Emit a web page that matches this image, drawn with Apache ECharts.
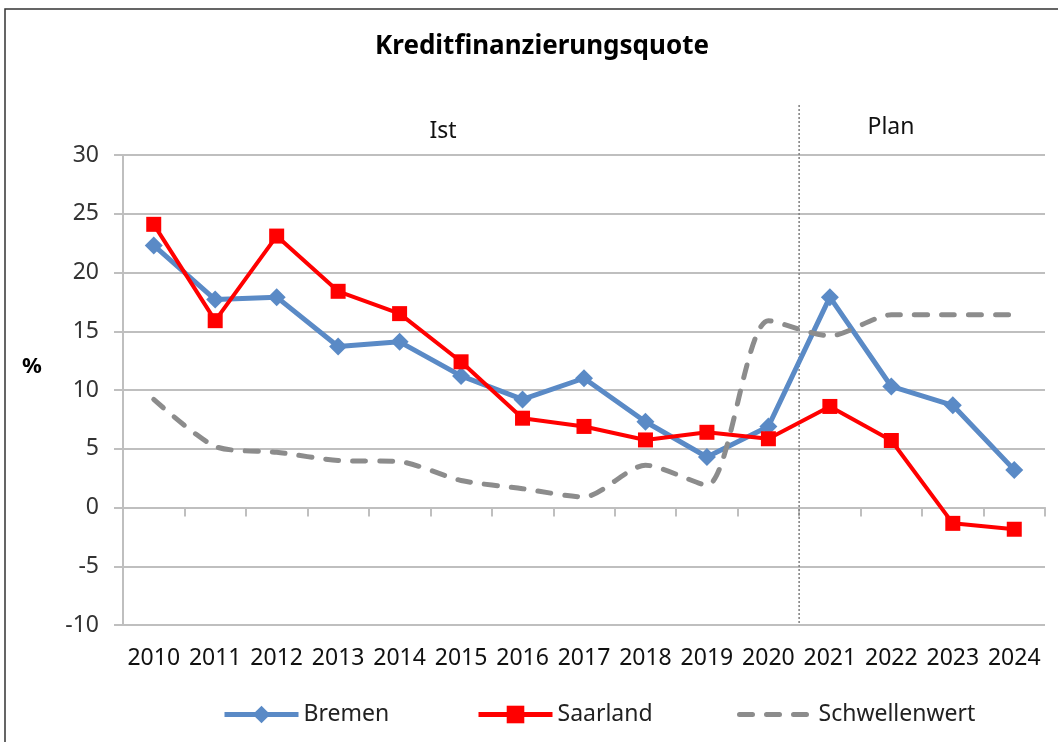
<!DOCTYPE html>
<html>
<head>
<meta charset="utf-8">
<title>Kreditfinanzierungsquote</title>
<script src="https://cdn.jsdelivr.net/npm/echarts@6/dist/echarts.min.js"></script>
<style>
  html, body { margin: 0; padding: 0; background: #fff; }
  #chart { width: 1058px; height: 742px; }
</style>
</head>
<body>
<div id="chart"></div>
<script>
// Daten
var years = ['2010','2011','2012','2013','2014','2015','2016','2017','2018','2019','2020','2021','2022','2023','2024'];
var bremen = [22.3, 17.7, 17.9, 13.7, 14.1, 11.2, 9.2, 11.0, 7.3, 4.3, 6.9, 17.9, 10.3, 8.7, 3.2];
var saarland = [24.1, 15.9, 23.1, 18.4, 16.5, 12.4, 7.6, 6.9, 5.75, 6.4, 5.85, 8.6, 5.7, -1.35, -1.85];
var schwelle = [9.2, 5.2, 4.7, 4.0, 3.9, 2.3, 1.6, 0.9, 3.6, 1.9, 15.9, 14.6, 16.4, 16.4, 16.4];
var yTicks = { min: -10, max: 30, step: 5 };

var font = 'Noto Sans';
var gridGray = '#bfbfbf';

var chart = echarts.init(document.getElementById('chart'));

// eine Legende pro Serie, damit die Abstände wie im Original sind
function legendAt(item, left) {
    return {
        data: [item],
        left: left,
        top: 703,
        padding: 0,
        itemWidth: 74,
        itemHeight: 22,
        itemGap: 4,
        lineStyle: { width: 5 },
        textStyle: { fontFamily: font, fontSize: 23, color: '#222' }
    };
}

var option = {
    animation: false,
    backgroundColor: '#fff',
    title: {
        text: 'Kreditfinanzierungsquote',
        left: 537,
        textAlign: 'center',
        top: 29,
        textStyle: { fontFamily: font, fontSize: 26, fontWeight: 'bold', color: '#000' }
    },
    legend: [
        legendAt('Bremen', 222),
        legendAt('Saarland', 476),
        legendAt({ name: 'Schwellenwert', itemStyle: { opacity: 0 } }, 737)
    ],
    grid: { left: 123, right: 13, top: 155, bottom: 117 },
    xAxis: {
        type: 'category',
        data: years,
        boundaryGap: true,
        axisLine: { lineStyle: { color: gridGray, width: 2 } },
        axisTick: { show: true, length: 9, lineStyle: { color: gridGray, width: 2 } },
        axisLabel: { interval: 0, fontFamily: font, fontSize: 23, color: '#111', margin: 22 }
    },
    yAxis: {
        type: 'value',
        min: yTicks.min,
        max: yTicks.max,
        interval: yTicks.step,
        axisLine: { show: true, lineStyle: { color: gridGray, width: 2 } },
        axisTick: { show: true, length: 9, lineStyle: { color: gridGray, width: 2 } },
        splitLine: { lineStyle: { color: gridGray, width: 2 } },
        axisLabel: { fontFamily: font, fontSize: 23, color: '#333', margin: 24 }
    },
    series: [
        {
            name: 'Bremen',
            type: 'line',
            data: bremen,
            symbol: 'diamond',
            symbolSize: 18,
            color: '#5a8ac6',
            lineStyle: { width: 5, color: '#5a8ac6' },
            itemStyle: { color: '#5a8ac6' }
        },
        {
            name: 'Saarland',
            type: 'line',
            data: saarland,
            symbol: 'rect',
            symbolSize: 15,
            color: '#ff0000',
            lineStyle: { width: 4, color: '#ff0000' },
            itemStyle: { color: '#ff0000' }
        },
        {
            name: 'Schwellenwert',
            type: 'line',
            data: schwelle,
            showSymbol: false,
            symbol: 'none',
            smooth: 0.25,
            color: '#8c8c8c',
            lineStyle: { width: 5, color: '#8c8c8c', type: [13, 14], cap: 'round' }
        }
    ]
};

chart.setOption(option);

// Trennlinie Ist / Plan zwischen 2020 und 2021
var x2020 = chart.convertToPixel({ xAxisIndex: 0 }, '2020');
var x2021 = chart.convertToPixel({ xAxisIndex: 0 }, '2021');
var xSep = (x2020 + x2021) / 2;
var yBottom = chart.convertToPixel({ yAxisIndex: 0 }, yTicks.min);

chart.setOption({
    graphic: [
        {
            type: 'rect',
            shape: { x: 5, y: 9, width: 1060, height: 740 },
            style: { fill: 'none', stroke: '#333', lineWidth: 1.5 },
            silent: true
        },
        {
            type: 'line',
            shape: { x1: xSep, y1: 105, x2: xSep, y2: yBottom },
            style: { stroke: '#7f7f7f', lineWidth: 1.5, lineDash: [2, 2] },
            z: 1,
            silent: true
        },
        {
            type: 'text',
            x: 443, y: 131,
            style: { text: 'Ist', fontFamily: font, fontSize: 23, fill: '#111', align: 'center', verticalAlign: 'middle' }
        },
        {
            type: 'text',
            x: 891, y: 127,
            style: { text: 'Plan', fontFamily: font, fontSize: 23, fill: '#111', align: 'center', verticalAlign: 'middle' }
        },
        {
            type: 'text',
            x: 32, y: 367,
            style: { text: '%', fontFamily: font, fontSize: 22, fontWeight: 'bold', fill: '#000', align: 'center', verticalAlign: 'middle' }
        }
    ]
});
</script>
</body>
</html>
